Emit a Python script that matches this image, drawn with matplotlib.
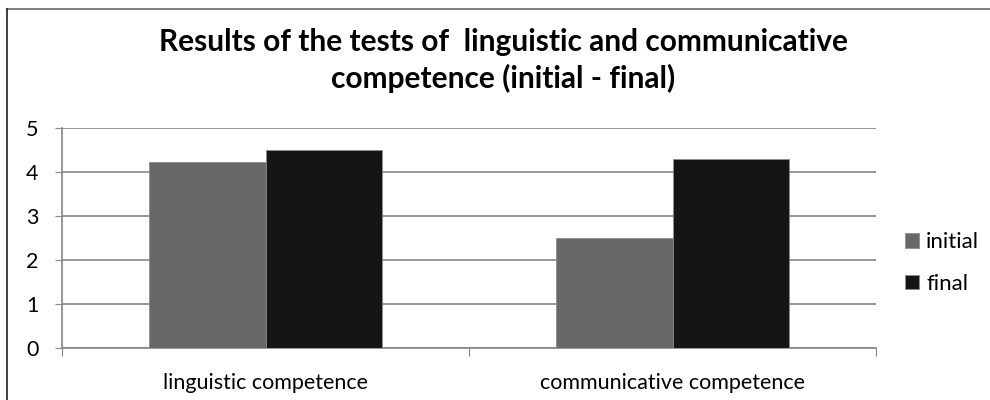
import matplotlib.pyplot as plt
import numpy as np
from matplotlib.lines import Line2D

plt.rcParams['font.family'] = ['Lato', 'DejaVu Sans']

# data
categories = ['linguistic competence', 'communicative competence']
series_names = ['initial', 'final']
initial = [4.23, 2.5]
final = [4.5, 4.3]
colors = ['#686868', '#151515']

fig = plt.figure(figsize=(9.9, 4), dpi=100)
ax = fig.add_axes([62 / 990, 1 - 348 / 400, (876 - 62) / 990, (348 - 128) / 400])

x = np.arange(len(categories))
w = 1 / 3.5
ax.bar(x - w / 2, initial, w, color=colors[0], edgecolor='#8c8c8c', linewidth=0.6,
       label=series_names[0], zorder=3)
ax.bar(x + w / 2, final, w, color=colors[1], edgecolor='#8c8c8c', linewidth=0.6,
       label=series_names[1], zorder=3)

ax.set_xlim(-0.5, len(categories) - 0.5)
ax.set_ylim(0, 5)
ax.set_yticks(range(6))
ax.yaxis.grid(True, color='#868686', linewidth=1.2, zorder=0)
ax.tick_params(axis='y', length=5, color='#868686', labelsize=15.5, pad=12)

# tick marks at category boundaries, labels in the middle
ax.set_xticks(np.arange(len(categories) + 1) - 0.5)
ax.set_xticklabels([])
ax.tick_params(axis='x', which='major', length=6, color='#868686')
ax.set_xticks(x, minor=True)
ax.set_xticklabels(categories, minor=True)
ax.tick_params(axis='x', which='minor', length=0, labelsize=15.5, pad=18)

for s in ['top', 'right']:
    ax.spines[s].set_visible(False)
for s in ['left', 'bottom']:
    ax.spines[s].set_color('#868686')
    ax.spines[s].set_linewidth(1.2)

leg = fig.legend(loc='center left', bbox_to_anchor=(905 / 990, 1 - 263 / 400), frameon=False,
                 fontsize=16, handlelength=0.65, handleheight=0.65, handletextpad=0.3,
                 labelspacing=0.97, borderaxespad=0, borderpad=0)

fig.text(503 / 990, 1 - 51 / 400, 'Results of the tests of  linguistic and communicative',
         ha='center', va='baseline', fontsize=21.5, fontweight='bold')
fig.text(503 / 990, 1 - 88 / 400, 'competence (initial - final)',
         ha='center', va='baseline', fontsize=21.5, fontweight='bold')

# chart frame (cut at the right and bottom edges)
fig.add_artist(Line2D([7 / 990, 1.0], [1 - 9 / 400] * 2, transform=fig.transFigure,
                      color='#808080', linewidth=1.5))
fig.add_artist(Line2D([7 / 990] * 2, [0, 1 - 9 / 400], transform=fig.transFigure,
                      color='#202020', linewidth=1.2))

fig.savefig('out.png', dpi=100)
